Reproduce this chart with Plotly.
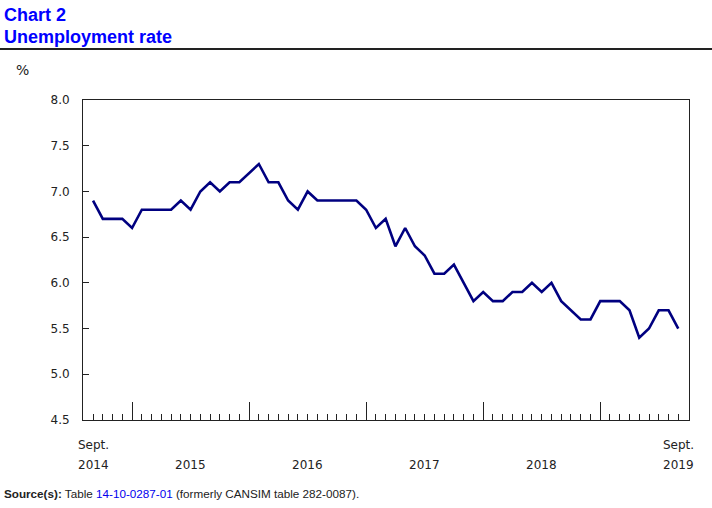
import plotly.graph_objects as go
import pandas as pd

# ---- data ----
months = pd.date_range("2014-09-01", "2019-09-01", freq="MS")
rate = [6.9, 6.7, 6.7, 6.7,
        6.6, 6.8, 6.8, 6.8, 6.8, 6.9, 6.8, 7.0, 7.1, 7.0, 7.1, 7.1,
        7.2, 7.3, 7.1, 7.1, 6.9, 6.8, 7.0, 6.9, 6.9, 6.9, 6.9, 6.9,
        6.8, 6.6, 6.7, 6.4, 6.6, 6.4, 6.3, 6.1, 6.1, 6.2, 6.0, 5.8,
        5.9, 5.8, 5.8, 5.9, 5.9, 6.0, 5.9, 6.0, 5.8, 5.7, 5.6, 5.6,
        5.8, 5.8, 5.8, 5.7, 5.4, 5.5, 5.7, 5.7, 5.5]
y_ticks = [4.5, 5.0, 5.5, 6.0, 6.5, 7.0, 7.5, 8.0]
year_labels = ["2015", "2016", "2017", "2018"]

idx = list(range(len(months)))
jan_idx = [i for i, m in enumerate(months) if m.month == 1]
minor_idx = [i for i in idx if i not in jan_idx]

W, H = 712, 508
L, R, T, B = 83, 23, 100, 88
pw, ph = W - L - R, H - T - B

def px_x(x):
    return (x - L) / pw

def px_y(y):
    return (H - B - y) / ph

fig = go.Figure()
fig.add_trace(go.Scatter(x=idx, y=rate, mode="lines",
                         line=dict(color="#000080", width=2.6),
                         hoverinfo="skip", showlegend=False))

fig.update_layout(
    width=W, height=H,
    margin=dict(l=L, r=R, t=T, b=B),
    paper_bgcolor="white", plot_bgcolor="white",
    font=dict(family="DejaVu Sans", size=12, color="#222222"),
)

fig.update_xaxes(
    range=[-1.03, 61.1], showgrid=False, zeroline=False,
    showline=True, linecolor="#222222", linewidth=1, mirror=True,
    tickmode="array", tickvals=jan_idx, ticks="inside", ticklen=18,
    tickcolor="#222222", tickwidth=1, showticklabels=False,
    minor=dict(tickmode="array", tickvals=minor_idx, ticks="inside",
               ticklen=6, tickcolor="#222222", tickwidth=1, showgrid=False),
)
fig.update_yaxes(
    range=[4.5, 8.0], showgrid=False, zeroline=False,
    showline=True, linecolor="#222222", linewidth=1, mirror=True,
    tickmode="array", tickvals=y_ticks, ticktext=[f"{v:.1f}" for v in y_ticks],
    ticks="inside", ticklen=6, tickcolor="#222222",
    ticklabelstandoff=10,
    tickfont=dict(family="DejaVu Sans", size=12, color="#222222"),
)

ann = []
blue = "#0000ff"
ann.append(dict(text="<b>Chart 2</b>", x=px_x(2), y=px_y(15), xref="paper", yref="paper",
                xanchor="left", yanchor="middle", showarrow=False,
                font=dict(family="Liberation Sans", size=18, color=blue)))
ann.append(dict(text="<b>Unemployment rate</b>", x=px_x(2), y=px_y(37), xref="paper", yref="paper",
                xanchor="left", yanchor="middle", showarrow=False,
                font=dict(family="Liberation Sans", size=18, color=blue)))
ann.append(dict(text="%", x=px_x(14), y=px_y(70), xref="paper", yref="paper",
                xanchor="left", yanchor="middle", showarrow=False,
                font=dict(family="DejaVu Sans", size=14, color="#222222")))

# x labels
for i, m in [(0, months[0]), (len(months) - 1, months[-1])]:
    ann.append(dict(text="Sept.", x=i, y=px_y(445), xref="x", yref="paper",
                    xanchor="center", yanchor="middle", showarrow=False))
    ann.append(dict(text=str(m.year), x=i, y=px_y(465), xref="x", yref="paper",
                    xanchor="center", yanchor="middle", showarrow=False))
for j, lab in zip(jan_idx, year_labels):
    ann.append(dict(text=lab, x=j + 6, y=px_y(465), xref="x", yref="paper",
                    xanchor="center", yanchor="middle", showarrow=False))

ann.append(dict(text="<b>Source(s):</b> Table <span style='color:#0000ee'>14-10-0287-01</span> (formerly CANSIM table 282-0087).",
                x=px_x(2), y=px_y(493), xref="paper", yref="paper",
                xanchor="left", yanchor="middle", showarrow=False,
                font=dict(family="Liberation Sans", size=11.7, color="#222222")))
fig.update_layout(annotations=ann)

fig.add_shape(type="line", xref="paper", yref="paper",
              x0=px_x(0), x1=px_x(W), y0=px_y(49), y1=px_y(49),
              line=dict(color="#222222", width=2))

fig.write_html("out.html",
               config={"displayModeBar": False},
               post_script="document.body.style.margin='0px';document.body.style.overflow='hidden';")
